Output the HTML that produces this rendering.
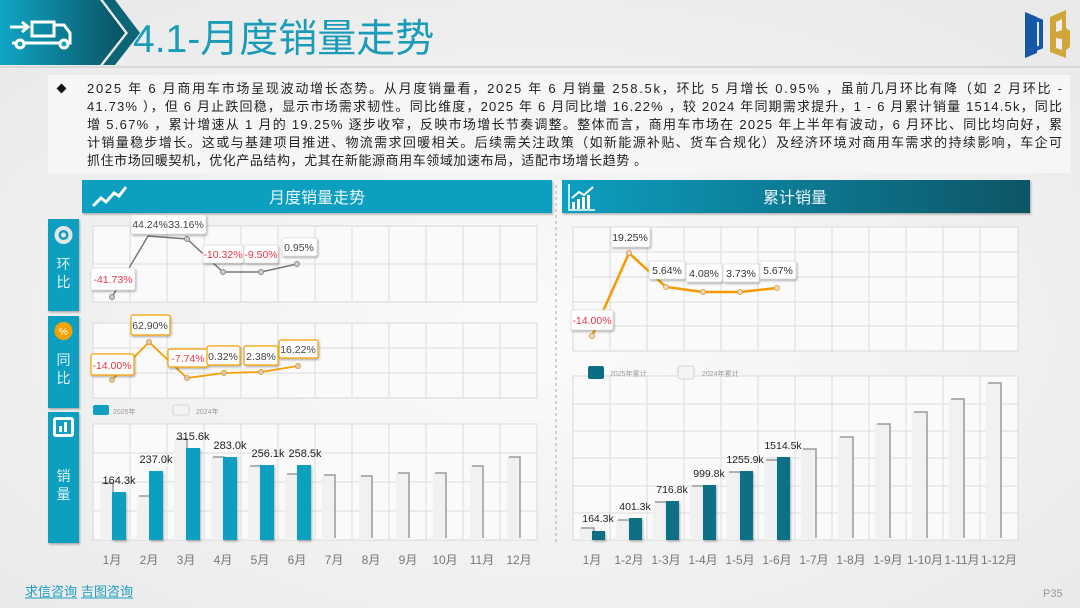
<!DOCTYPE html>
<html><head><meta charset="utf-8"><style>
html,body{margin:0;padding:0;width:1080px;height:608px;overflow:hidden;background:#efefef}
svg text{font-family:"Liberation Sans","Noto Sans CJK SC",sans-serif}
</style></head><body>
<svg width="1080" height="608" viewBox="0 0 1080 608" xmlns="http://www.w3.org/2000/svg">
<defs>
<radialGradient id="bg" cx="0.5" cy="0.55" r="0.7"><stop offset="0" stop-color="#fbfbfb"/><stop offset="1" stop-color="#e9e9ea"/></radialGradient>
<linearGradient id="hd" x1="0" x2="1"><stop offset="0" stop-color="#10a6c6"/><stop offset="1" stop-color="#0a5262"/></linearGradient>
<linearGradient id="rh" x1="0" x2="1"><stop offset="0" stop-color="#0f9fc1"/><stop offset="1" stop-color="#0a5565"/></linearGradient>
<filter id="sh" x="-20%" y="-20%" width="150%" height="160%"><feDropShadow dx="1" dy="1.5" stdDeviation="1" flood-color="#000" flood-opacity="0.3"/></filter>
</defs>
<rect width="1080" height="608" fill="url(#bg)"/>
<!-- header -->
<polygon points="0,0 100,0 125,33 100,65 0,65" fill="url(#hd)"/>
<polygon points="103,0 115,0 140,33 115,65 103,65 128,33" fill="#0b6576"/>
<g fill="none" stroke="#fff" stroke-width="3">
<rect x="32" y="22" width="22" height="14" fill="none"/><path d="M54 25 h10 l6 8 v10 h-58"/><circle cx="20" cy="44" r="4" fill="#12a0bf"/><circle cx="64" cy="44" r="4" fill="#12a0bf"/>
</g>
<path d="M10 27 h18 M22 22 l6 5 -6 5" stroke="#fff" stroke-width="3" fill="none"/>
<text x="133" y="52" font-size="39" fill="#1a9cb9">4.1-月度销量走势</text>
<rect x="0" y="66" width="1080" height="2" fill="#d8d8d8"/>
<!-- logo -->
<path d="M1025 12 l12 5 v36 l-12 5 z" fill="#1458a6"/><path d="M1033 18 l8 3 v26 l-8 3" fill="none" stroke="#1458a6" stroke-width="4"/>
<path d="M1050 17 l16 -7 v18 l4 3 v16 l-4 3 v8 l-16 -6 z" fill="#d1a53a"/><path d="M1056 22 v10 l6 -2 v-11 z M1056 38 v10 l6 2 v-11 z" fill="#f0f0f0"/>
<!-- paragraph -->
<rect x="48" y="75" width="1022" height="98" fill="#f6f6f6"/>
<rect x="58" y="85" width="7" height="7" fill="#111" transform="rotate(45 61.5 88.5)"/>
<g font-size="13" fill="#222">
<text x="87" y="93" textLength="975" lengthAdjust="spacing">2025 年 6 月商用车市场呈现波动增长态势。从月度销量看，2025 年 6 月销量 258.5k，环比 5 月增长 0.95% ，虽前几月环比有降（如 2 月环比 -</text>
<text x="87" y="111" textLength="975" lengthAdjust="spacing">41.73% ），但 6 月止跌回稳，显示市场需求韧性。同比维度，2025 年 6 月同比增 16.22% ，较 2024 年同期需求提升，1 - 6 月累计销量 1514.5k，同比</text>
<text x="87" y="129" textLength="975" lengthAdjust="spacing">增 5.67% ，累计增速从 1 月的 19.25% 逐步收窄，反映市场增长节奏调整。整体而言，商用车市场在 2025 年上半年有波动，6 月环比、同比均向好，累</text>
<text x="87" y="147" textLength="975" lengthAdjust="spacing">计销量稳步增长。这或与基建项目推进、物流需求回暖相关。后续需关注政策（如新能源补贴、货车合规化）及经济环境对商用车需求的持续影响，车企可</text>
<text x="87" y="165" textLength="560" lengthAdjust="spacing">抓住市场回暖契机，优化产品结构，尤其在新能源商用车领域加速布局，适配市场增长趋势 。</text>
</g>
<!-- panel headers -->
<rect x="82" y="180" width="470" height="33" fill="#0e9fc0" filter="url(#sh)"/>
<path d="M93 206 l8 -8 5 4 8 -9 5 3 7 -9" stroke="#fff" stroke-width="3" fill="none"/>
<text x="317" y="203" font-size="16" fill="#eaf6fa" text-anchor="middle">月度销量走势</text>
<rect x="562" y="180" width="468" height="33" fill="url(#rh)" filter="url(#sh)"/>
<path d="M569 184 v26 h26" stroke="#fff" stroke-width="1.5" fill="none"/>
<g fill="#fff"><rect x="572" y="202" width="3" height="7"/><rect x="577" y="199" width="3" height="10"/><rect x="582" y="197" width="3" height="12"/><rect x="587" y="195" width="3" height="14"/></g>
<path d="M572 198 l7 -6 5 3 9 -8" stroke="#fff" stroke-width="2" fill="none"/>
<text x="795" y="203" font-size="16" fill="#eaf6fa" text-anchor="middle">累计销量</text>
<line x1="556" y1="185" x2="556" y2="545" stroke="#aaa" stroke-dasharray="3,3"/>
<!-- side labels -->
<g filter="url(#sh)" fill="#0e9fc0"><rect x="48" y="219" width="31" height="92"/><rect x="48" y="316" width="31" height="92"/><rect x="48" y="412" width="31" height="131"/></g>
<circle cx="63.5" cy="235" r="9" fill="#e6e6e6"/><circle cx="63.5" cy="235" r="5" fill="#0e9fc0"/><circle cx="63.5" cy="235" r="2.5" fill="#e6e6e6"/>
<circle cx="63.5" cy="331" r="9" fill="#f5a300"/><text x="63.5" y="335" font-size="10" fill="#fff" text-anchor="middle">%</text>
<rect x="53" y="417" width="21" height="20" rx="3" fill="#fff"/><rect x="56" y="420" width="15" height="14" fill="#0e9fc0"/><rect x="59" y="426" width="3" height="6" fill="#fff"/><rect x="64" y="422" width="3" height="10" fill="#fff"/>
<g font-size="14" fill="#dff2f7" text-anchor="middle"><text x="63.5" y="269">环</text><text x="63.5" y="287">比</text><text x="63.5" y="365">同</text><text x="63.5" y="383">比</text><text x="63.5" y="481">销</text><text x="63.5" y="499">量</text></g>
<!-- grids -->
<g fill="#fafafa" stroke="#d9d9d9" stroke-width="1">
<rect x="93" y="226" width="444" height="76"/>
<rect x="93" y="323" width="444" height="75"/>
<rect x="93" y="424" width="444" height="116"/>
<rect x="573" y="227" width="445" height="124"/>
<rect x="573" y="376" width="445" height="164"/>
</g>
<g stroke="#dcdcdc" stroke-width="1">
<path d="M130 226V302M167 226V302M204 226V302M241 226V302M278 226V302M315 226V302M352 226V302M389 226V302M426 226V302M463 226V302M500 226V302M93 264H537"/>
<path d="M130 323V398M167 323V398M204 323V398M241 323V398M278 323V398M315 323V398M352 323V398M389 323V398M426 323V398M463 323V398M500 323V398M93 348H537M93 373H537"/>
<path d="M130 424V540M167 424V540M204 424V540M241 424V540M278 424V540M315 424V540M352 424V540M389 424V540M426 424V540M463 424V540M500 424V540M93 453H537M93 482H537M93 511H537"/>
<path d="M610 227V351M647 227V351M684 227V351M721 227V351M758 227V351M795 227V351M832 227V351M869 227V351M906 227V351M943 227V351M980 227V351M573 252H1018M573 277H1018M573 302H1018M573 326H1018"/>
<path d="M610 376V540M647 376V540M684 376V540M721 376V540M758 376V540M795 376V540M832 376V540M869 376V540M906 376V540M943 376V540M980 376V540M573 404H1018M573 431H1018M573 458H1018M573 486H1018M573 513H1018"/>
</g>
<!-- left legend -->
<rect x="93" y="405" width="16" height="10" rx="2" fill="#0e9fc0"/><text x="113" y="414" font-size="7" fill="#999">2025年</text>
<rect x="173" y="405" width="16" height="10" rx="2" fill="#f3f3f3" stroke="#bbb" stroke-width="0.6"/><text x="196" y="414" font-size="7" fill="#999">2024年</text>
<!-- left 2024 bars -->
<g fill="#f1f1f1">
<rect x="100" y="483" width="13" height="57"/><rect x="137" y="496" width="13" height="44"/><rect x="174" y="439" width="13" height="101"/><rect x="211" y="457" width="13" height="83"/><rect x="248" y="466" width="13" height="74"/><rect x="285" y="474" width="13" height="66"/><rect x="322" y="475" width="13" height="65"/><rect x="359" y="476" width="13" height="64"/><rect x="396" y="473" width="13" height="67"/><rect x="433" y="473" width="13" height="67"/><rect x="470" y="466" width="13" height="74"/><rect x="507" y="457" width="13" height="83"/>
</g>
<g fill="none" stroke="#9a9a9a" stroke-width="1.5">
<path d="M102 483H113V538"/><path d="M139 496H150V538"/><path d="M176 439H187V538"/><path d="M213 457H224V538"/><path d="M250 466H261V538"/><path d="M287 474H298V538"/><path d="M324 475H335V538"/><path d="M361 476H372V538"/><path d="M398 473H409V538"/><path d="M435 473H446V538"/><path d="M472 466H483V538"/><path d="M509 457H520V538"/>
</g>
<g fill="#0e9fc0" filter="url(#sh)">
<rect x="112" y="492" width="14" height="48"/><rect x="149" y="471" width="14" height="69"/><rect x="186" y="448" width="14" height="92"/><rect x="223" y="457" width="14" height="83"/><rect x="260" y="465" width="14" height="75"/><rect x="297" y="465" width="14" height="75"/>
</g>
<g font-size="11" fill="#222" text-anchor="middle">
<text x="119" y="484">164.3k</text><text x="156" y="463">237.0k</text><text x="193" y="440">315.6k</text><text x="230" y="449">283.0k</text><text x="268" y="457">256.1k</text><text x="305" y="457">258.5k</text>
</g>
<g font-size="12" fill="#777" text-anchor="middle">
<text x="112" y="564">1月</text><text x="149" y="564">2月</text><text x="186" y="564">3月</text><text x="223" y="564">4月</text><text x="260" y="564">5月</text><text x="297" y="564">6月</text><text x="334" y="564">7月</text><text x="371" y="564">8月</text><text x="408" y="564">9月</text><text x="445" y="564">10月</text><text x="482" y="564">11月</text><text x="519" y="564">12月</text>
</g>
<!-- 环比 line -->
<polyline points="112,297 148,236 187,239 223,272 261,272 297,264" fill="none" stroke="#777" stroke-width="1.5"/>
<g fill="#ccc" stroke="#888"><circle cx="112" cy="297" r="2.5"/><circle cx="187" cy="239" r="2.5"/><circle cx="223" cy="272" r="2.5"/><circle cx="261" cy="272" r="2.5"/><circle cx="297" cy="264" r="2.5"/></g>
<g fill="#fff" stroke="#ddd" stroke-width="0.8" filter="url(#sh)">
<rect x="91" y="268" width="44" height="22" rx="2"/><rect x="131" y="215" width="39" height="19" rx="2"/><rect x="167" y="215" width="39" height="19" rx="2"/><rect x="203" y="245" width="40" height="18" rx="2"/><rect x="244" y="245" width="34" height="18" rx="2"/><rect x="282" y="238" width="35" height="18" rx="2"/>
</g>
<g font-size="10.5" text-anchor="middle">
<text x="113" y="283" fill="#f03040">-41.73%</text><text x="150" y="228" fill="#444">44.24%</text><text x="186" y="228" fill="#444">33.16%</text><text x="223" y="258" fill="#f03040">-10.32%</text><text x="261" y="258" fill="#f03040">-9.50%</text><text x="299" y="251" fill="#444">0.95%</text>
</g>
<!-- 同比 line -->
<polyline points="112,380 149,342 187,378 224,373 261,372 298,366" fill="none" stroke="#f5a000" stroke-width="1.8"/>
<g fill="#ccc" stroke="#e8a030"><circle cx="112" cy="380" r="2.5"/><circle cx="149" cy="342" r="2.5"/><circle cx="187" cy="378" r="2.5"/><circle cx="224" cy="373" r="2.5"/><circle cx="261" cy="372" r="2.5"/><circle cx="298" cy="366" r="2.5"/></g>
<g fill="#fff" stroke="#f5a000" stroke-width="1.2" filter="url(#sh)">
<rect x="91" y="354" width="43" height="21" rx="2"/><rect x="131" y="315" width="39" height="20" rx="2"/><rect x="168" y="349" width="40" height="18" rx="2"/><rect x="207" y="346" width="33" height="19" rx="2"/><rect x="244" y="346" width="34" height="19" rx="2"/><rect x="279" y="340" width="39" height="18" rx="2"/>
</g>
<g font-size="10.5" text-anchor="middle">
<text x="112" y="369" fill="#f03040">-14.00%</text><text x="150" y="329" fill="#444">62.90%</text><text x="188" y="362" fill="#f03040">-7.74%</text><text x="223" y="360" fill="#444">0.32%</text><text x="261" y="360" fill="#444">2.38%</text><text x="298" y="353" fill="#444">16.22%</text>
</g>
<!-- right line -->
<polyline points="592,336 629,253 666,287 703,292 740,292 777,288" fill="none" stroke="#f59a00" stroke-width="2.5"/>
<g fill="#ddd" stroke="#e8a030"><circle cx="592" cy="336" r="2.5"/><circle cx="629" cy="253" r="2.5"/><circle cx="666" cy="287" r="2.5"/><circle cx="703" cy="292" r="2.5"/><circle cx="740" cy="292" r="2.5"/><circle cx="777" cy="288" r="2.5"/></g>
<g fill="#fff" stroke="#ddd" stroke-width="0.8" filter="url(#sh)">
<rect x="571" y="310" width="42" height="20" rx="2"/><rect x="611" y="227" width="39" height="20" rx="2"/><rect x="649" y="261" width="36" height="18" rx="2"/><rect x="686" y="264" width="36" height="18" rx="2"/><rect x="723" y="264" width="36" height="18" rx="2"/><rect x="760" y="261" width="36" height="18" rx="2"/>
</g>
<g font-size="10.5" text-anchor="middle">
<text x="592" y="324" fill="#f03040">-14.00%</text><text x="630" y="241" fill="#333">19.25%</text><text x="667" y="274" fill="#333">5.64%</text><text x="704" y="277" fill="#333">4.08%</text><text x="741" y="277" fill="#333">3.73%</text><text x="778" y="274" fill="#333">5.67%</text>
</g>
<!-- right legend -->
<rect x="588" y="366" width="16" height="13" rx="2" fill="#0b6f84"/><text x="610" y="376" font-size="7" fill="#999">2025年累计</text>
<rect x="678" y="366" width="16" height="13" rx="2" fill="#f3f3f3" stroke="#bbb" stroke-width="0.6"/><text x="702" y="376" font-size="7" fill="#999">2024年累计</text>
<!-- right bars -->
<g fill="#f1f1f1">
<rect x="579" y="528" width="15" height="12"/><rect x="616" y="520" width="15" height="20"/><rect x="653" y="502" width="15" height="38"/><rect x="690" y="486" width="15" height="54"/><rect x="727" y="472" width="15" height="68"/><rect x="764" y="460" width="15" height="80"/><rect x="801" y="449" width="15" height="91"/><rect x="838" y="437" width="15" height="103"/><rect x="875" y="424" width="15" height="116"/><rect x="912" y="412" width="15" height="128"/><rect x="949" y="399" width="15" height="141"/><rect x="986" y="383" width="15" height="157"/>
</g>
<g fill="none" stroke="#9a9a9a" stroke-width="1.5">
<path d="M581 528H594V538"/><path d="M618 520H631V538"/><path d="M655 502H668V538"/><path d="M692 486H705V538"/><path d="M729 472H742V538"/><path d="M766 460H779V538"/><path d="M803 449H816V538"/><path d="M840 437H853V538"/><path d="M877 424H890V538"/><path d="M914 412H927V538"/><path d="M951 399H964V538"/><path d="M988 383H1001V538"/>
</g>
<g fill="#0b6f84" filter="url(#sh)">
<rect x="592" y="531" width="13" height="9"/><rect x="629" y="518" width="13" height="22"/><rect x="666" y="501" width="13" height="39"/><rect x="703" y="485" width="13" height="55"/><rect x="740" y="471" width="13" height="69"/><rect x="777" y="457" width="13" height="83"/>
</g>
<g font-size="10.5" fill="#222" text-anchor="middle">
<text x="598" y="522">164.3k</text><text x="635" y="510">401.3k</text><text x="672" y="493">716.8k</text><text x="709" y="477">999.8k</text><text x="745" y="463">1255.9k</text><text x="783" y="449">1514.5k</text>
</g>
<g font-size="12" fill="#777" text-anchor="middle">
<text x="592" y="564">1月</text><text x="629" y="564">1-2月</text><text x="666" y="564">1-3月</text><text x="703" y="564">1-4月</text><text x="740" y="564">1-5月</text><text x="777" y="564">1-6月</text><text x="814" y="564">1-7月</text><text x="851" y="564">1-8月</text><text x="888" y="564">1-9月</text><text x="925" y="564">1-10月</text><text x="962" y="564">1-11月</text><text x="999" y="564">1-12月</text>
</g>
<!-- footer -->
<text x="25" y="596" font-size="13" fill="#1c9fc0">求信咨询</text>
<line x1="25" y1="598" x2="77" y2="598" stroke="#1c9fc0"/>
<text x="81" y="596" font-size="13" fill="#1c9fc0">吉图咨询</text>
<line x1="81" y1="598" x2="133" y2="598" stroke="#1c9fc0"/>
<text x="1043" y="597" font-size="11" fill="#999">P35</text>
</svg>
</body></html>
